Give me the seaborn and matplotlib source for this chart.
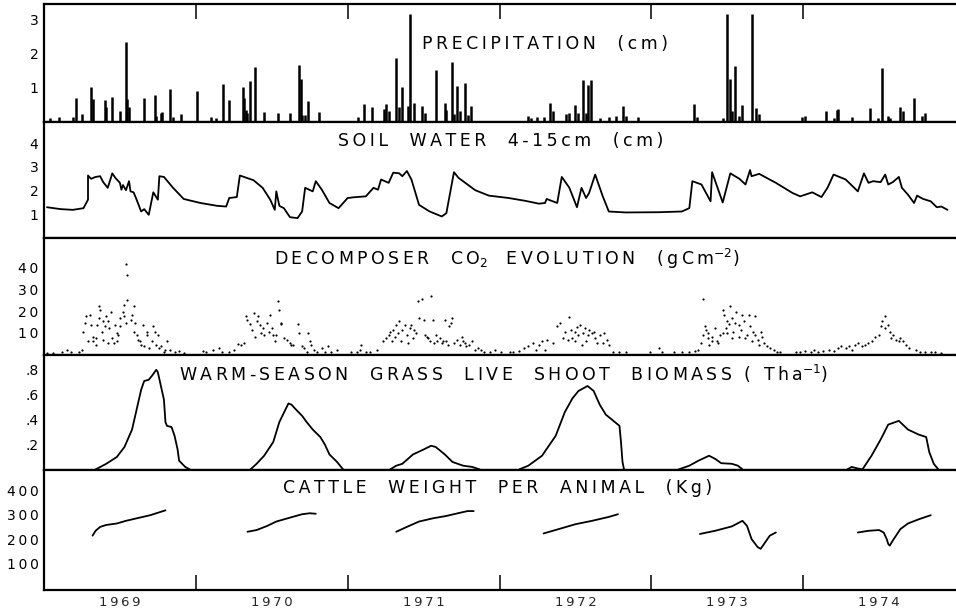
import numpy as np
import pandas as pd
import matplotlib
matplotlib.use('Agg')
import matplotlib.pyplot as plt
import seaborn as sns

sns.set_style('white')
plt.rcParams['font.family'] = ['DejaVu Sans']

# ---- data (decimal years) ----
precip_date = [1969.04, 1969.10, 1969.19, 1969.21, 1969.25, 1969.31, 1969.32, 1969.40, 1969.41, 1969.45,
               1969.50, 1969.54, 1969.55, 1969.56, 1969.66, 1969.73, 1969.74, 1969.77, 1969.78, 1969.83,
               1969.85, 1969.90, 1970.01, 1970.10, 1970.13, 1970.18, 1970.22, 1970.31, 1970.32, 1970.33,
               1970.34, 1970.36, 1970.39, 1970.45, 1970.54, 1970.62, 1970.68, 1970.69, 1970.70, 1970.72,
               1970.74, 1970.81, 1971.07, 1971.11, 1971.16, 1971.24, 1971.25, 1971.27, 1971.32, 1971.34,
               1971.36, 1971.40, 1971.41, 1971.44, 1971.49, 1971.51, 1971.58, 1971.64, 1971.65, 1971.69,
               1971.70, 1971.72, 1971.74, 1971.77, 1971.79, 1971.81,
               1972.19, 1972.21, 1972.25, 1972.29, 1972.33, 1972.35, 1972.44, 1972.46, 1972.50, 1972.52,
               1972.55, 1972.57, 1972.58, 1972.60, 1972.66, 1972.72, 1972.77, 1972.81, 1972.83, 1972.91,
               1973.28, 1973.30, 1973.47, 1973.50, 1973.52, 1973.53, 1973.55, 1973.58, 1973.60, 1973.66,
               1973.69, 1973.71, 1973.99, 1974.01, 1974.15, 1974.20, 1974.22, 1974.23, 1974.32, 1974.44,
               1974.49, 1974.52, 1974.56, 1974.57, 1974.64, 1974.66, 1974.73, 1974.78, 1974.80]
precip_cm = [0.10, 0.13, 0.15, 0.71, 0.22, 1.01, 0.66, 0.64, 0.42, 0.74,
             0.31, 2.35, 0.67, 0.42, 0.70, 0.80, 0.17, 0.27, 0.28, 0.95,
             0.13, 0.23, 0.91, 0.15, 0.10, 1.12, 0.64, 1.03, 0.71, 0.34,
             0.25, 1.20, 1.60, 0.29, 0.27, 0.25, 1.68, 1.25, 0.20, 0.20,
             0.62, 0.29, 0.15, 0.53, 0.42, 0.37, 0.51, 0.31, 1.86, 0.44,
             1.02, 0.46, 3.17, 0.56, 0.46, 0.26, 1.52, 0.54, 0.34, 1.76,
             0.22, 1.05, 0.31, 1.15, 0.20, 0.46,
             0.17, 0.12, 0.14, 0.14, 0.54, 0.33, 0.22, 0.26, 0.49, 0.26,
             1.22, 0.26, 1.08, 1.22, 0.10, 0.14, 0.17, 0.46, 0.17, 0.14,
             0.51, 0.14, 0.10, 3.16, 1.27, 0.31, 1.64, 0.17, 0.48, 3.16,
             0.39, 0.22, 0.14, 0.16, 0.33, 0.12, 0.35, 0.38, 0.14, 0.39,
             0.10, 1.57, 0.17, 0.12, 0.43, 0.31, 0.69, 0.17, 0.25]

soil_date = [1969.02, 1969.11, 1969.19, 1969.26, 1969.29, 1969.29, 1969.31, 1969.34, 1969.37, 1969.39,
             1969.42, 1969.45, 1969.47, 1969.50, 1969.51, 1969.52, 1969.54, 1969.56, 1969.57, 1969.59,
             1969.61, 1969.64, 1969.66, 1969.69, 1969.72, 1969.75, 1969.76, 1969.79, 1969.85, 1969.92,
             1970.03, 1970.14, 1970.20, 1970.22, 1970.27, 1970.29, 1970.38, 1970.44, 1970.49, 1970.52,
             1970.53, 1970.55, 1970.58, 1970.62, 1970.67, 1970.70, 1970.72, 1970.77, 1970.79, 1970.83,
             1970.88, 1970.94, 1971.00, 1971.04, 1971.12, 1971.17, 1971.20, 1971.22, 1971.27, 1971.30,
             1971.34, 1971.36, 1971.39, 1971.42, 1971.47, 1971.54, 1971.62, 1971.65, 1971.70, 1971.73,
             1971.84, 1971.93, 1972.06, 1972.17, 1972.26, 1972.30, 1972.31, 1972.38, 1972.41, 1972.46,
             1972.51, 1972.54, 1972.57, 1972.59, 1972.63, 1972.68, 1972.72, 1972.83, 1973.05, 1973.20,
             1973.25, 1973.27, 1973.33, 1973.39, 1973.40, 1973.47, 1973.52, 1973.58, 1973.62, 1973.65,
             1973.66, 1973.71, 1973.82, 1973.93, 1973.98, 1974.06, 1974.12, 1974.16, 1974.20, 1974.28,
             1974.36, 1974.40, 1974.43, 1974.46, 1974.51, 1974.54, 1974.56, 1974.59, 1974.63, 1974.65,
             1974.69, 1974.73, 1974.75, 1974.79, 1974.84, 1974.88, 1974.91, 1974.95]
soil_cm = [1.29, 1.21, 1.18, 1.25, 1.61, 2.63, 2.49, 2.57, 2.60, 2.35,
           2.11, 2.72, 2.53, 2.32, 2.03, 2.23, 2.01, 2.39, 1.96, 1.92,
           1.61, 1.11, 1.21, 0.97, 1.92, 1.61, 2.60, 2.57, 2.11, 1.64,
           1.47, 1.35, 1.32, 1.68, 1.72, 2.63, 2.43, 2.11, 1.61, 1.18,
           1.96, 1.35, 1.25, 0.87, 0.83, 1.11, 2.11, 1.96, 2.39, 2.03,
           1.47, 1.25, 1.68, 1.71, 1.75, 2.11, 2.03, 2.46, 2.32, 2.75,
           2.72, 2.60, 2.82, 2.46, 1.39, 1.11, 0.90, 1.04, 2.77, 2.53,
           2.01, 1.78, 1.68, 1.56, 1.44, 1.47, 1.64, 1.47, 2.57, 2.11,
           1.29, 2.11, 1.68, 1.89, 2.67, 1.75, 1.11, 1.07, 1.08, 1.11,
           1.25, 2.39, 2.25, 1.54, 2.77, 1.49, 2.72, 2.49, 2.25, 2.86,
           2.60, 2.70, 2.32, 1.89, 1.75, 1.92, 1.72, 2.11, 2.67, 2.46,
           1.96, 2.72, 2.32, 2.39, 2.35, 2.67, 2.25, 2.35, 2.57, 2.11,
           1.82, 1.47, 1.78, 1.64, 1.54, 1.29, 1.32, 1.18]

co2_date = [1969.02, 1969.06, 1969.12, 1969.15, 1969.18, 1969.23, 1969.25, 1969.26, 1969.27, 1969.28,
            1969.29, 1969.30, 1969.31, 1969.32, 1969.32, 1969.34, 1969.34, 1969.35, 1969.36, 1969.36,
            1969.37, 1969.38, 1969.39, 1969.39, 1969.40, 1969.41, 1969.42, 1969.42, 1969.43, 1969.44,
            1969.45, 1969.46, 1969.47, 1969.48, 1969.48, 1969.49, 1969.50, 1969.50, 1969.52, 1969.53,
            1969.53, 1969.54, 1969.54, 1969.55, 1969.55, 1969.57, 1969.58, 1969.59, 1969.59, 1969.60,
            1969.61, 1969.62, 1969.63, 1969.64, 1969.65, 1969.66, 1969.68, 1969.68, 1969.69, 1969.71,
            1969.72, 1969.73, 1969.74, 1969.75, 1969.76, 1969.77, 1969.79, 1969.80, 1969.81, 1969.83,
            1969.86, 1969.89, 1969.92,
            1970.05, 1970.07, 1970.11, 1970.15, 1970.17, 1970.22, 1970.25, 1970.28, 1970.30, 1970.32,
            1970.33, 1970.34, 1970.36, 1970.37, 1970.38, 1970.39, 1970.40, 1970.41, 1970.42, 1970.43,
            1970.44, 1970.45, 1970.47, 1970.48, 1970.49, 1970.50, 1970.51, 1970.52, 1970.53, 1970.54,
            1970.55, 1970.56, 1970.56, 1970.58, 1970.60, 1970.62, 1970.63, 1970.64, 1970.67, 1970.68,
            1970.70, 1970.71, 1970.73, 1970.74, 1970.75, 1970.76, 1970.78, 1970.80, 1970.83, 1970.85,
            1970.87, 1970.89, 1970.93, 1971.02, 1971.06, 1971.08, 1971.09, 1971.12, 1971.15, 1971.19,
            1971.23, 1971.25, 1971.27, 1971.28, 1971.29, 1971.30, 1971.31, 1971.32, 1971.33, 1971.34,
            1971.35, 1971.36, 1971.38, 1971.39, 1971.40, 1971.41, 1971.42, 1971.43, 1971.44, 1971.45,
            1971.46, 1971.47, 1971.49, 1971.50, 1971.51, 1971.52, 1971.53, 1971.54, 1971.55, 1971.56,
            1971.57, 1971.58, 1971.59, 1971.61, 1971.62, 1971.63, 1971.64, 1971.65, 1971.66, 1971.67,
            1971.68, 1971.69, 1971.70, 1971.72, 1971.74, 1971.75, 1971.76, 1971.77, 1971.78, 1971.80,
            1971.82, 1971.84, 1971.86,
            1971.88, 1971.90, 1971.94, 1971.97, 1972.01, 1972.07, 1972.09, 1972.13, 1972.16, 1972.19,
            1972.22, 1972.24, 1972.26, 1972.28, 1972.30, 1972.31, 1972.35, 1972.38, 1972.40, 1972.42,
            1972.43, 1972.45, 1972.46, 1972.47, 1972.48, 1972.50, 1972.50, 1972.51, 1972.52, 1972.53,
            1972.54, 1972.55, 1972.56, 1972.57, 1972.58, 1972.59, 1972.61, 1972.62, 1972.63, 1972.64,
            1972.66, 1972.68, 1972.69, 1972.71, 1972.72, 1972.75, 1972.79, 1972.83, 1972.99,
            1973.05, 1973.07, 1973.15, 1973.20, 1973.25, 1973.29, 1973.31, 1973.33, 1973.34, 1973.34,
            1973.35, 1973.36, 1973.37, 1973.37, 1973.38, 1973.40, 1973.40, 1973.42, 1973.43, 1973.44,
            1973.45, 1973.47, 1973.47, 1973.48, 1973.49, 1973.50, 1973.50, 1973.51, 1973.52, 1973.53,
            1973.53, 1973.54, 1973.55, 1973.56, 1973.58, 1973.58, 1973.59, 1973.60, 1973.61, 1973.62,
            1973.63, 1973.64, 1973.65, 1973.66, 1973.67, 1973.68, 1973.68, 1973.70, 1973.71, 1973.72,
            1973.73, 1973.74, 1973.76, 1973.78, 1973.81, 1973.83, 1973.85,
            1973.95, 1973.98, 1974.01, 1974.05, 1974.07, 1974.10, 1974.13, 1974.17, 1974.20, 1974.23,
            1974.25, 1974.28, 1974.30, 1974.32, 1974.34, 1974.36, 1974.39, 1974.41, 1974.43, 1974.45,
            1974.47, 1974.50, 1974.51, 1974.52, 1974.54, 1974.54, 1974.56, 1974.57, 1974.58, 1974.59,
            1974.61, 1974.63, 1974.64, 1974.66, 1974.68, 1974.70, 1974.74, 1974.77, 1974.80, 1974.84,
            1974.87, 1974.91]
co2_g = [0.5, 0.6, 0.9, 2.0, 0.9, 1.2, 2.0, 10.5, 14.4, 17.5,
         5.9, 18.3, 13.6, 5.9, 8.2, 4.3, 7.4, 13.6, 22.2, 16.7,
         20.6, 10.5, 15.5, 6.7, 12.9, 17.5, 5.1, 15.2, 12.1, 19.8,
         7.4, 5.1, 13.6, 9.8, 5.9, 9.0, 16.7, 12.9, 19.8, 17.5,
         22.9, 14.4, 41.9, 36.6, 25.3, 16.0, 18.3, 10.5, 22.2, 14.4,
         9.0, 6.7, 5.9, 4.3, 13.6, 3.6, 10.5, 9.0, 2.8, 5.9,
         12.9, 10.5, 4.3, 9.0, 2.8, 3.6, 1.2, 2.0, 5.9, 2.0,
         1.2, 1.6, 0.5,
         1.6, 1.2, 2.0, 2.8, 1.2, 0.9, 2.0, 4.7, 4.3, 5.1,
         17.5, 16.0, 14.0, 11.3, 19.1, 8.2, 15.2, 17.5, 13.6, 9.8,
         12.1, 9.0, 14.4, 10.5, 18.3, 12.1, 9.0, 5.9, 9.0, 24.5,
         20.6, 14.4, 14.0, 7.4, 6.7, 5.1, 4.3, 4.3, 14.0, 9.8,
         3.6, 3.1, 1.2, 9.8, 5.9, 4.3, 2.0, 1.2, 2.8, 1.2,
         3.6, 1.2, 2.0, 1.2, 0.9, 2.0, 4.3, 0.9, 0.9, 2.0,
         5.9, 7.4, 9.0, 10.5, 5.9, 11.3, 8.2, 13.6, 9.8, 15.2,
         6.2, 11.3, 13.6, 9.0, 5.1, 12.1, 13.6, 7.4, 11.3, 9.8,
         24.5, 16.7, 25.6, 16.0, 9.0, 8.2, 7.4, 5.9, 26.8, 16.0,
         5.1, 9.0, 5.9, 7.4, 5.1, 6.2, 16.0, 5.9, 4.3, 12.9,
         14.4, 16.7, 5.1, 6.7, 4.3, 8.2, 5.9, 5.1, 3.6, 4.3,
         5.9, 2.0, 2.8,
         2.0, 0.9, 1.2, 2.0, 1.2, 0.9, 1.2, 1.6, 2.8, 3.6,
         5.1, 2.0, 4.3, 5.9, 2.0, 6.7, 5.1, 12.9, 14.4, 7.4,
         10.5, 6.7, 17.1, 11.3, 7.4, 10.5, 5.9, 12.4, 9.0, 13.6,
         4.3, 9.8, 12.1, 5.9, 9.0, 11.3, 9.8, 10.5, 7.4, 5.1,
         9.0, 5.1, 9.8, 6.7, 4.3, 1.2, 1.2, 1.2, 0.9,
         2.8, 1.2, 0.9, 1.2, 0.9, 1.6, 2.0, 5.1, 25.6, 9.0,
         12.9, 11.3, 7.4, 9.8, 4.3, 5.9, 8.2, 12.1, 5.9, 5.1,
         9.0, 9.8, 20.6, 18.3, 12.1, 15.5, 9.8, 14.0, 22.2, 7.4,
         16.7, 10.5, 14.4, 19.8, 8.2, 13.6, 11.3, 18.3, 15.2, 7.4,
         9.0, 18.3, 12.9, 5.9, 10.5, 17.5, 9.0, 6.7, 4.3, 10.5,
         8.2, 5.1, 3.6, 2.8, 2.0, 1.2, 0.9,
         1.2, 0.9, 1.6, 1.2, 2.0, 1.2, 1.6, 2.0, 1.6, 2.8,
         3.6, 2.8, 3.6, 2.0, 4.3, 5.1, 3.6, 4.3, 5.1, 5.9,
         8.2, 9.0, 12.9, 15.2, 17.5, 12.1, 13.6, 10.5, 7.4, 9.0,
         6.7, 5.9, 7.4, 5.9, 4.3, 2.8, 2.0, 1.2, 0.9, 1.2,
         0.9, 0.5]

biomass_date = [1969.34, 1969.41, 1969.48, 1969.53, 1969.58, 1969.61, 1969.64, 1969.66, 1969.69, 1969.71,
                1969.74, 1969.75, 1969.77, 1969.79, 1969.80, 1969.81, 1969.84, 1969.86, 1969.88, 1969.89,
                1969.93, 1969.96,
                1970.36, 1970.40, 1970.45, 1970.51, 1970.55, 1970.59, 1970.61, 1970.63, 1970.66, 1970.70,
                1970.73, 1970.77, 1970.82, 1970.85, 1970.88, 1970.93, 1970.97,
                1971.28, 1971.32, 1971.36, 1971.43, 1971.50, 1971.55, 1971.58, 1971.64, 1971.69, 1971.76,
                1971.82, 1971.87,
                1972.13, 1972.19, 1972.28, 1972.37, 1972.43, 1972.48, 1972.52, 1972.58, 1972.62, 1972.66,
                1972.70, 1972.74, 1972.79, 1972.80, 1972.81, 1972.82,
                1973.18, 1973.25, 1973.31, 1973.38, 1973.42, 1973.46, 1973.53, 1973.57, 1973.60,
                1974.29, 1974.32, 1974.35, 1974.39, 1974.45, 1974.51, 1974.56, 1974.63, 1974.69, 1974.76,
                1974.81, 1974.83, 1974.86, 1974.89]
biomass_tha = [0.0, 0.045, 0.10, 0.18, 0.32, 0.48, 0.64, 0.71, 0.72, 0.75,
               0.80, 0.78, 0.67, 0.56, 0.38, 0.35, 0.34, 0.27, 0.16, 0.07,
               0.02, 0.0,
               0.0, 0.045, 0.11, 0.22, 0.38, 0.48, 0.53, 0.52, 0.48, 0.43,
               0.38, 0.32, 0.26, 0.20, 0.12, 0.06, 0.0,
               0.0, 0.03, 0.045, 0.12, 0.16, 0.19, 0.18, 0.12, 0.06, 0.03,
               0.02, 0.0,
               0.0, 0.03, 0.11, 0.27, 0.46, 0.57, 0.63, 0.67, 0.63, 0.52,
               0.44, 0.40, 0.35, 0.22, 0.06, 0.0,
               0.0, 0.03, 0.07, 0.11, 0.085, 0.05, 0.045, 0.03, 0.0,
               0.0, 0.02, 0.01, 0.0, 0.11, 0.24, 0.36, 0.39, 0.32, 0.28,
               0.26, 0.14, 0.045, 0.0]

cattle_date = [1969.32, 1969.34, 1969.37, 1969.41, 1969.48, 1969.54, 1969.63, 1969.70, 1969.75, 1969.80,
               1970.34, 1970.40, 1970.47, 1970.53, 1970.62, 1970.70, 1970.75, 1970.79,
               1971.32, 1971.39, 1971.47, 1971.56, 1971.65, 1971.74, 1971.79, 1971.83,
               1972.29, 1972.39, 1972.50, 1972.61, 1972.72, 1972.78,
               1973.32, 1973.42, 1973.53, 1973.60, 1973.63, 1973.66, 1973.70, 1973.72, 1973.75, 1973.78,
               1973.82,
               1974.36, 1974.43, 1974.50, 1974.53, 1974.55, 1974.56, 1974.57, 1974.59, 1974.64, 1974.69,
               1974.76, 1974.84]
cattle_kg = [215, 235, 251, 259, 265, 276, 289, 299, 309, 319,
             231, 238, 255, 273, 289, 303, 307, 305,
             231, 251, 273, 286, 296, 309, 316, 316,
             224, 242, 262, 276, 292, 303,
             222, 235, 253, 276, 255, 201, 168, 161, 188, 215,
             228,
             228, 235, 238, 228, 201, 181, 174, 195, 242, 265,
             282, 299]

year_edges = [1970, 1971, 1972, 1973, 1974]
year_mid = [1969.5, 1970.5, 1971.5, 1972.5, 1973.5, 1974.5]
year_labels = ['1969', '1970', '1971', '1972', '1973', '1974']

titles = ['PRECIPITATION  (cm)',
          'SOIL  WATER  4-15cm  (cm)',
          r'DECOMPOSER  CO$_2$  EVOLUTION  (gCm$^{-2}$)',
          r'WARM-SEASON  GRASS  LIVE  SHOOT  BIOMASS ( Tha$^{-1}$)',
          'CATTLE  WEIGHT  PER  ANIMAL  (Kg)']
title_x = [0.55, 0.501, 0.508, 0.504, 0.498]
title_y = [0.66, 0.83, 0.82, 0.83, 0.85]

THIN = '\u2009'


def spaced(s):
    # widen letter spacing outside the mathtext parts
    parts = s.split('$')
    for k in range(0, len(parts), 2):
        parts[k] = THIN.join(parts[k])
    return '$'.join(parts)


fig, axes = plt.subplots(5, 1, figsize=(9.56, 6.12), dpi=100, sharex=True,
                         gridspec_kw=dict(height_ratios=[118, 116, 117, 115, 120]))
fig.subplots_adjust(left=0.046, right=0.999, top=0.994, bottom=0.036, hspace=0)

# Precipitation bars
ax = axes[0]
ax.vlines(precip_date, 0, precip_cm, color='black', lw=1.8)
ax.set_ylim(0, 3.47)
ax.set_yticks([1, 2, 3])
ax.set_yticklabels(['1', '2', '3'])

# Soil water
ax = axes[1]
sns.lineplot(x=soil_date, y=soil_cm, ax=ax, color='black', lw=1.3, estimator=None, sort=False)
ax.set_ylim(0, 4.9)
ax.set_yticks([1, 2, 3, 4])
ax.set_yticklabels(['1', '2', '3', '4'])

# Decomposer CO2
ax = axes[2]
sns.scatterplot(x=co2_date, y=co2_g, ax=ax, color='black', s=2.5, linewidth=0)
ax.set_ylim(-0.3, 54)
ax.set_yticks([10, 20, 30, 40])
ax.set_yticklabels([spaced(t) for t in ['10', '20', '30', '40']])

# Biomass
ax = axes[3]
bio = pd.DataFrame({'date': biomass_date, 'val': biomass_tha})
bio['season'] = np.floor(bio['date']).astype(int)
sns.lineplot(data=bio, x='date', y='val', units='season', estimator=None, ax=ax,
             color='black', lw=1.3)
ax.set_ylim(-0.004, 0.92)
ax.set_yticks([0.2, 0.4, 0.6, 0.8])
ax.set_yticklabels(['.2', '.4', '.6', '.8'])

# Cattle
ax = axes[4]
cat = pd.DataFrame({'date': cattle_date, 'val': cattle_kg})
cat['season'] = np.floor(cat['date']).astype(int)
sns.lineplot(data=cat, x='date', y='val', units='season', estimator=None, ax=ax,
             color='black', lw=1.3)
ax.set_ylim(-8, 485)
ax.set_yticks([100, 200, 300, 400])
ax.set_yticklabels([spaced(t) for t in ['100', '200', '300', '400']])

for i, ax in enumerate(axes):
    ax.set_xlabel('')
    ax.set_ylabel('')
    ax.set_xlim(1969, 1975)
    for side in ['left', 'top', 'bottom']:
        ax.spines[side].set_linewidth(1.6)
        ax.spines[side].set_color('black')
    ax.spines['right'].set_visible(False)
    ax.tick_params(axis='y', direction='in', length=8, width=1.3, labelsize=10, pad=4,
                   colors='black')
    ax.text(title_x[i], title_y[i], spaced(titles[i]), transform=ax.transAxes, ha='center',
            va='center', fontsize=12.5, color='black')

ax_bottom = axes[4]
ax_bottom.set_xticks(year_edges)
ax_bottom.set_xticks(year_mid, minor=True)
ax_bottom.set_xticklabels([spaced(t) for t in year_labels], minor=True)
ax_bottom.tick_params(axis='x', which='major', direction='in', length=11, width=1.3,
                      labelbottom=False, bottom=True, top=False)
ax_bottom.tick_params(axis='x', which='minor', length=0, labelsize=9.5, pad=4)

for ax in axes[1:4]:
    ax.tick_params(axis='x', which='both', bottom=False, top=False)
axes[0].tick_params(axis='x', which='major', direction='in', length=11, width=1.3,
                    top=True, bottom=False)
axes[0].tick_params(axis='x', which='minor', top=False, bottom=False)

fig.savefig('out.png', dpi=100)
